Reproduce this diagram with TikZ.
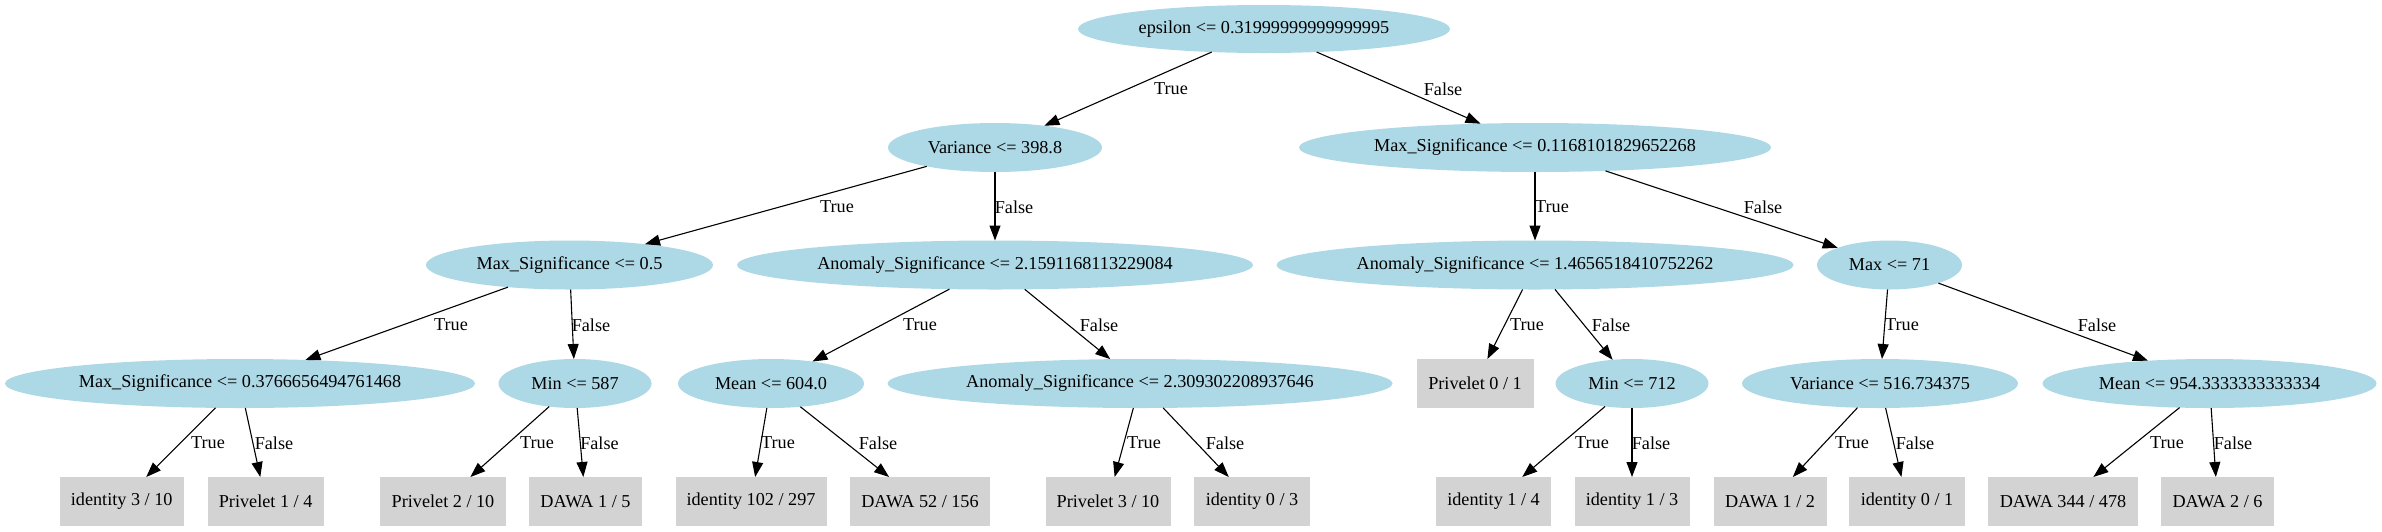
\documentclass[tikz,border=0pt]{standalone}
\usepackage{fontspec}
\setmainfont{Liberation Serif}
\usetikzlibrary{shapes.geometric,arrows.meta}
\definecolor{lb}{HTML}{ADD8E6}
\definecolor{lg}{HTML}{D3D3D3}
\begin{document}
\begin{tikzpicture}[x=1pt,y=-1pt,
 font=\fontsize{18.2}{22}\selectfont,
 dec/.style={ellipse,fill=lb,inner sep=0pt,outer sep=0pt,minimum height=49pt},
 leaf/.style={rectangle,fill=lg,inner sep=0pt,outer sep=0pt,minimum height=49pt},
 edge/.style={line width=1.1pt,-{Triangle[length=15pt,width=11pt]}},
 lbl/.style={inner sep=0pt}]
\useasboundingbox (0,0) rectangle (2382,531);
% level 0
\node[dec,minimum width=372pt,minimum height=48pt] (root) at (1264,29) {epsilon <= 0.31999999999999995};
% level 1
\node[dec,minimum width=214pt] (var1) at (995,147.5) {Variance <= 398.8};
\node[dec,minimum width=472pt] (ms1) at (1535,147.5) {Max\_Significance <= 0.1168101829652268};
% level 2
\node[dec,minimum width=287pt] (ms05) at (569.5,265) {Max\_Significance <= 0.5};
\node[dec,minimum width=516pt] (an1) at (995,265) {Anomaly\_Significance <= 2.1591168113229084};
\node[dec,minimum width=517pt] (an2) at (1535,265) {Anomaly\_Significance <= 1.4656518410752262};
\node[dec,minimum width=145pt] (max71) at (1889.5,265) {Max <= 71};
% level 3
\node[dec,minimum width=470pt] (ms03) at (240,383.5) {Max\_Significance <= 0.3766656494761468};
\node[dec,minimum width=153pt] (min587) at (575,383.5) {Min <= 587};
\node[dec,minimum width=186pt] (mean604) at (771,383.5) {Mean <= 604.0};
\node[dec,minimum width=505pt] (an3) at (1140,383.5) {Anomaly\_Significance <= 2.309302208937646};
\node[leaf,minimum width=117pt] (priv01) at (1475,383.5) {Privelet 0 / 1};
\node[dec,minimum width=153pt] (min712) at (1632,383.5) {Min <= 712};
\node[dec,minimum width=276pt] (var516) at (1880,383.5) {Variance <= 516.734375};
\node[dec,minimum width=334pt] (mean954) at (2209.5,383.5) {Mean <= 954.3333333333334};
% level 4
\node[leaf,minimum width=124pt] (id310) at (121.7,501.5) {identity 3 / 10};
\node[leaf,minimum width=116pt] (priv14) at (265.6,501.5) {Privelet 1 / 4};
\node[leaf,minimum width=126pt] (priv210) at (443,501.5) {Privelet 2 / 10};
\node[leaf,minimum width=113pt] (dawa15) at (585.5,501.5) {DAWA 1 / 5};
\node[leaf,minimum width=151pt] (id102) at (751,501.5) {identity 102 / 297};
\node[leaf,minimum width=140pt] (dawa52) at (920,501.5) {DAWA 52 / 156};
\node[leaf,minimum width=125pt] (priv310) at (1108,501.5) {Privelet 3 / 10};
\node[leaf,minimum width=116pt] (id03) at (1252,501.5) {identity 0 / 3};
\node[leaf,minimum width=115pt] (id14) at (1493.5,501.5) {identity 1 / 4};
\node[leaf,minimum width=115pt] (id13) at (1632,501.5) {identity 1 / 3};
\node[leaf,minimum width=113pt] (dawa12) at (1770,501.5) {DAWA 1 / 2};
\node[leaf,minimum width=116pt] (id01) at (1907,501.5) {identity 0 / 1};
\node[leaf,minimum width=150pt] (dawa344) at (2063,501.5) {DAWA 344 / 478};
\node[leaf,minimum width=113pt] (dawa26) at (2217.5,501.5) {DAWA 2 / 6};
% edges
\draw[edge] (root) -- (var1);
\draw[edge] (root) -- (ms1);
\draw[edge] (var1) -- (ms05);
\draw[edge] (var1) -- (an1);
\draw[edge] (ms1) -- (an2);
\draw[edge] (ms1) -- (max71);
\draw[edge] (ms05) -- (ms03);
\draw[edge] (ms05) -- (min587);
\draw[edge] (an1) -- (mean604);
\draw[edge] (an1) -- (an3);
\draw[edge] (an2) -- (priv01);
\draw[edge] (an2) -- (min712);
\draw[edge] (max71) -- (var516);
\draw[edge] (max71) -- (mean954);
\draw[edge] (ms03) -- (id310);
\draw[edge] (ms03) -- (priv14);
\draw[edge] (min587) -- (priv210);
\draw[edge] (min587) -- (dawa15);
\draw[edge] (mean604) -- (id102);
\draw[edge] (mean604) -- (dawa52);
\draw[edge] (an3) -- (priv310);
\draw[edge] (an3) -- (id03);
\draw[edge] (min712) -- (id14);
\draw[edge] (min712) -- (id13);
\draw[edge] (var516) -- (dawa12);
\draw[edge] (var516) -- (id01);
\draw[edge] (mean954) -- (dawa344);
\draw[edge] (mean954) -- (dawa26);
% edge labels
\node[lbl] (t1) at (1171,89) {True};
\node[lbl] (f1) at (1443,89) {False};
\node[lbl] (t2) at (837,207) {True};
\node[lbl] (f2) at (1014,207) {False};
\node[lbl] (t3) at (1552,207) {True};
\node[lbl] (f3) at (1763,207) {False};
\node[lbl] (t4) at (451,325) {True};
\node[lbl] (f4) at (591,325) {False};
\node[lbl] (t5) at (920,325) {True};
\node[lbl] (f5) at (1099,325) {False};
\node[lbl] (t6) at (1527,325) {True};
\node[lbl] (f6) at (1611,325) {False};
\node[lbl] (t7) at (1902,325) {True};
\node[lbl] (f7) at (2097,325) {False};
\node[lbl] (t8) at (208,443) {True};
\node[lbl] (f8) at (274,443) {False};
\node[lbl] (t9) at (537,443) {True};
\node[lbl] (f9) at (599.5,443) {False};
\node[lbl] (t10) at (778,443) {True};
\node[lbl] (f10) at (878,443) {False};
\node[lbl] (t11) at (1144,443) {True};
\node[lbl] (f11) at (1225,443) {False};
\node[lbl] (t12) at (1592,443) {True};
\node[lbl] (f12) at (1651,443) {False};
\node[lbl] (t13) at (1852,443) {True};
\node[lbl] (f13) at (1915,443) {False};
\node[lbl] (t14) at (2167,443) {True};
\node[lbl] (f14) at (2233,443) {False};
\end{tikzpicture}
\end{document}
